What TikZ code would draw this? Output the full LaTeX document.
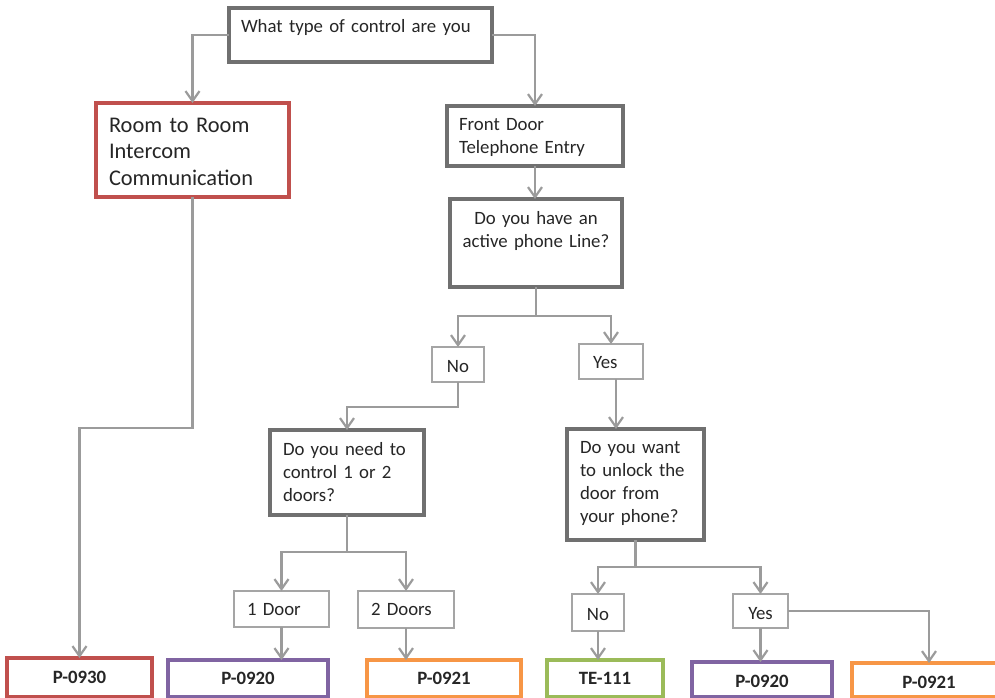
\documentclass[tikz,border=0pt]{standalone}
\usepackage{fontspec}
\setmainfont{Carlito}
\usetikzlibrary{arrows.meta}
\definecolor{boxgray}{HTML}{707070}
\definecolor{linegray}{HTML}{9B9B9B}
\definecolor{ansgray}{HTML}{A5A5A5}
\definecolor{pred}{HTML}{C0504D}
\definecolor{ppurple}{HTML}{8064A2}
\definecolor{porange}{HTML}{F79646}
\definecolor{pgreen}{HTML}{9BBB59}
\definecolor{ink}{HTML}{262626}
\begin{document}
\begin{tikzpicture}[x=1pt,y=-1pt,
  >={Straight Barb[length=10pt,width=14pt]},
  every node/.style={anchor=north west,inner ysep=0pt,outer sep=0pt,text=ink,
    font=\fontsize{18.8}{23}\selectfont},
  box/.style={draw=boxgray,line width=3.2pt,align=left},
  ans/.style={draw=ansgray,line width=1.5pt},
  part/.style={draw=#1,line width=3.2pt,align=center,inner xsep=0pt,
    font=\fontsize{18.8}{23}\selectfont\bfseries},
  conn/.style={->,draw=linegray,line width=2.2pt}]
\fill[white] (0,0) rectangle (995,698);
\useasboundingbox (0,0) rectangle (995,698);

% questions
\node[box,inner xsep=12pt,text width=239pt,text height=25pt,text depth=29pt] (top) at (229,8) {What type of control are you};
\node[box,draw=pred,inner xsep=13pt,text width=167pt,text height=29pt,text depth=65pt,
  font=\fontsize{22.4}{26.5}\selectfont] (room) at (96,103) {Room to Room\\Intercom\\Communication};
\node[box,inner xsep=12pt,text width=152pt,text height=24pt,text depth=36pt] (front) at (447,106) {Front Door\\Telephone Entry};
\node[box,align=center,inner xsep=8pt,text width=156pt,text height=25pt,text depth=63pt] (active) at (450,199) {Do you have an\\active phone Line?};
\node[box,inner xsep=13pt,text width=128pt,text height=25pt,text depth=60pt] (need) at (270,430) {Do you need to\\control 1 or 2\\doors?};
\node[box,inner xsep=13pt,text width=111pt,text height=24pt,text depth=87pt] (want) at (567,429) {Do you want\\to unlock the\\door from\\your phone?};

% answers
\node[ans,align=center,inner xsep=0pt,text width=52pt,text height=25pt,text depth=10pt] (no1) at (432,347) {No};
\node[ans,align=left,inner xsep=14pt,text width=36pt,text height=24pt,text depth=11pt] (yes1) at (579,344) {Yes};
\node[ans,align=left,inner xsep=13pt,text width=69pt,text height=24pt,text depth=12pt] (door1) at (234,591) {1 Door};
\node[ans,align=left,inner xsep=13pt,text width=70pt,text height=24pt,text depth=13pt] (door2) at (358,591) {2 Doors};
\node[ans,align=center,inner xsep=0pt,text width=52pt,text height=26pt,text depth=11pt] (no2) at (572,594) {No};
\node[ans,align=center,inner xsep=0pt,text width=55pt,text height=25pt,text depth=9pt] (yes2) at (733,594) {Yes};

% parts
\node[part=pred,text width=145pt,text height=25pt,text depth=14pt] (p0930) at (7,658) {P-0930};
\node[part=ppurple,text width=160pt,text height=24pt,text depth=13pt] (p0920a) at (168,660) {P-0920};
\node[part=porange,text width=154pt,text height=24pt,text depth=13pt] (p0921a) at (367,660) {P-0921};
\node[part=pgreen,text width=116pt,text height=24pt,text depth=13pt] (te111) at (547,660) {TE-111};
\node[part=ppurple,text width=140pt,text height=25pt,text depth=10pt] (p0920b) at (692,662) {P-0920};
\node[part=porange,text width=154pt,text height=25pt,text depth=9pt] (p0921b) at (852,663) {P-0921};

% connectors
\draw[conn] (top.west) -| (room.north);
\draw[conn] (top.east) -| (front.north);
\draw[conn] (front.south) -- (front.south |- active.north);
\draw[conn] (active.south) -- ++(0,29) coordinate (ab) -| (no1.north);
\draw[conn] (ab) -| (yes1.north);
\draw[conn] (no1.south) -- ++(0,25) -| (need.north);
\draw[conn] ([xshift=5pt]yes1.south) -- ([xshift=5pt]yes1.south |- want.north);
\draw[conn] (need.south) -- ++(0,37) coordinate (nb) -| (door1.north);
\draw[conn] (nb) -| (door2.north);
\draw[conn] (door1.south) -- (door1.south |- p0920a.north);
\draw[conn] (door2.south) -- (door2.south |- p0921a.north);
\draw[conn] (room.south) -- ++(0,231) -| (p0930.north);
\draw[conn] (want.south) -- ++(0,27) coordinate (wb) -| (no2.north);
\draw[conn] (wb) -| (yes2.north);
\draw[conn] (no2.south) -- (no2.south |- te111.north);
\draw[conn] (yes2.south) -- (yes2.south |- p0920b.north);
\draw[conn] (yes2.east) -| (p0921b.north);
\end{tikzpicture}
\end{document}
